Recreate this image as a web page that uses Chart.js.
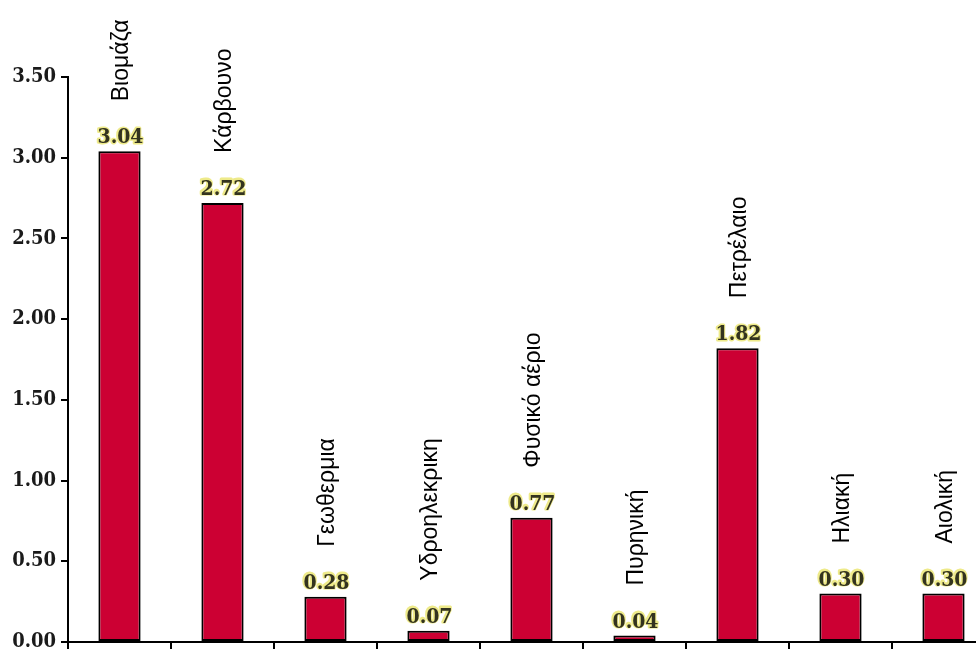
<!DOCTYPE html>
<html>
<head>
<meta charset="utf-8">
<script src="https://cdn.jsdelivr.net/npm/chart.js@4/dist/chart.umd.min.js"></script>
<style>
  html, body { margin: 0; padding: 0; background: #fff; overflow: hidden; }
  #wrap { width: 995px; height: 650px; position: relative; }
</style>
</head>
<body>
<div id="wrap"><canvas id="myChart"></canvas></div>
<script>
// data
const categories = ['Βιομάζα', 'Κάρβουνο', 'Γεωθερμια', 'Υδροηλεκρικη', 'Φυσικό αέριο',
                    'Πυρηνική', 'Πετρέλαιο', 'Ηλιακή', 'Αιολική'];
const values = [3.04, 2.72, 0.28, 0.07, 0.77, 0.04, 1.82, 0.30, 0.30];
const yTicks = [0, 0.5, 1, 1.5, 2, 2.5, 3, 3.5];

const serif = '"DejaVu Serif Condensed", "DejaVu Serif", serif';

// value + rotated category name above each bar
const barLabels = {
    id: 'barLabels',
    afterDatasetsDraw(chart) {
        const ctx = chart.ctx;
        const meta = chart.getDatasetMeta(0);
        meta.data.forEach(function(bar, i) {
            const x = bar.x + 1;
            const top = bar.y;
            ctx.save();
            // value label: dark text with a yellow halo
            ctx.font = 'bold 21px ' + serif;
            ctx.textAlign = 'center';
            ctx.textBaseline = 'alphabetic';
            const txt = values[i].toFixed(2);
            ctx.lineJoin = 'round';
            ctx.lineWidth = 3;
            ctx.strokeStyle = '#eeea8a';
            ctx.strokeText(txt, x - 0.5, top - 8 - 0.5);
            ctx.fillStyle = '#33331f';
            ctx.fillText(txt, x, top - 8);
            ctx.restore();

            // category name, reading bottom to top
            ctx.save();
            ctx.translate(x + 1, top - 50);
            ctx.rotate(-Math.PI / 2);
            ctx.font = '23px "Liberation Sans"';
            ctx.fillStyle = '#000';
            ctx.textAlign = 'left';
            ctx.textBaseline = 'middle';
            ctx.fillText(categories[i], 0, 0);
            ctx.restore();
        });
    }
};

const ctx = document.getElementById('myChart').getContext('2d');

window.myChart = new Chart(ctx, {
    type: 'bar',
    data: {
        labels: categories,
        datasets: [{
            data: values,
            backgroundColor: '#cc0033',
            borderColor: '#000',
            borderWidth: 2,
            borderSkipped: false,
            categoryPercentage: 1,
            barPercentage: 0.41
        }]
    },
    options: {
        responsive: true,
        maintainAspectRatio: false,
        animation: false,
        layout: { padding: { top: 77, left: 0, right: 0, bottom: 1 } },
        plugins: {
            legend: { display: false },
            tooltip: { enabled: false }
        },
        scales: {
            x: {
                grid: { drawOnChartArea: false, tickLength: 7, color: '#000', lineWidth: 2, offset: true },
                border: { color: '#000', width: 2 },
                ticks: { display: false }
            },
            y: {
                min: 0,
                max: 3.5,
                afterBuildTicks: function(scale) {
                    scale.ticks = yTicks.map(v => ({ value: v }));
                },
                afterFit: function(scale) {
                    scale.width = 68;
                    scale.paddingTop = 0;
                    scale.paddingBottom = 0;
                },
                grid: { drawOnChartArea: false, tickLength: 7, color: '#000', lineWidth: 2 },
                border: { color: '#000', width: 2 },
                ticks: {
                    padding: 5,
                    color: '#1a1a1a',
                    font: { family: serif, size: 20, weight: 'bold' },
                    callback: v => Number(v).toFixed(2)
                }
            }
        }
    },
    plugins: [barLabels]
});
</script>
</body>
</html>
